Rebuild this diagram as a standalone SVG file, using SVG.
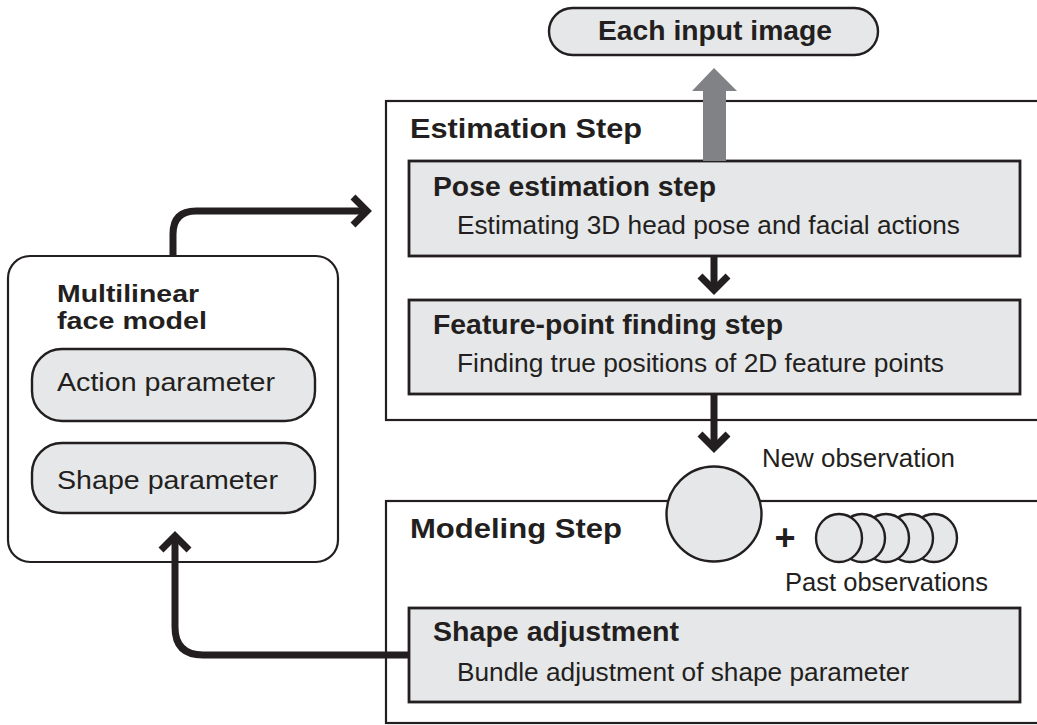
<svg xmlns="http://www.w3.org/2000/svg" width="1037" height="725" viewBox="0 0 1037 725">
  <style>
    .frame { fill: #ffffff; stroke: #231f20; stroke-width: 2.2; }
    .step { fill: #e6e7e8; stroke: #231f20; stroke-width: 2.8; }
    .pill { fill: #e6e7e8; stroke: #231f20; stroke-width: 2.4; }
    .obs { fill: #e6e7e8; stroke: #231f20; stroke-width: 2.4; }
    .wire { fill: none; stroke: #231f20; stroke-width: 7; stroke-linejoin: miter; }
    .head { fill: none; stroke: #231f20; stroke-width: 7; stroke-linejoin: miter; stroke-linecap: butt; }
    text { font-family: "Liberation Sans", Arial, Helvetica, sans-serif; fill: #231f20; }
    .h1 { font-size: 28px; font-weight: bold; }
    .h2 { font-size: 27px; font-weight: bold; }
    .h3 { font-size: 23px; font-weight: bold; }
    .body { font-size: 25px; }
    .lbl { font-size: 26px; }
  </style>

  <!-- Estimation step frame -->
  <g id="estimation-step">
    <rect class="frame" x="386" y="101" width="700" height="319"/>
    <text class="h1" x="410" y="138" textLength="232" lengthAdjust="spacingAndGlyphs">Estimation Step</text>
  </g>

  <!-- Modeling step frame -->
  <g id="modeling-step">
    <rect class="frame" x="386" y="501" width="700" height="222"/>
    <text class="h1" x="410" y="538" textLength="212" lengthAdjust="spacingAndGlyphs">Modeling Step</text>
  </g>

  <!-- Input pill -->
  <g id="input-image">
    <rect class="pill" x="549" y="8" width="329" height="47" rx="23.5"/>
    <text class="h1" x="598" y="40" textLength="234" lengthAdjust="spacingAndGlyphs">Each input image</text>
  </g>

  <g id="pose-estimation">
    <rect class="step" x="409" y="161" width="611" height="95"/>
    <text class="h2" x="433" y="196" textLength="283" lengthAdjust="spacingAndGlyphs">Pose estimation step</text>
    <text class="body" x="457" y="234" textLength="503" lengthAdjust="spacingAndGlyphs">Estimating 3D head pose and facial actions</text>
  </g>

  <g id="feature-point">
    <rect class="step" x="409" y="300" width="611" height="94"/>
    <text class="h2" x="433" y="334" textLength="350" lengthAdjust="spacingAndGlyphs">Feature-point finding step</text>
    <text class="body" x="457" y="372" textLength="487" lengthAdjust="spacingAndGlyphs">Finding true positions of 2D feature points</text>
  </g>

  <g id="shape-adjustment">
    <rect class="step" x="409" y="608" width="611" height="94"/>
    <text class="h2" x="433" y="641" textLength="246" lengthAdjust="spacingAndGlyphs">Shape adjustment</text>
    <text class="body" x="457" y="681" textLength="452" lengthAdjust="spacingAndGlyphs">Bundle adjustment of shape parameter</text>
  </g>

  <!-- Face model -->
  <g id="face-model">
    <rect class="frame" x="8" y="256" width="330" height="306" rx="22"/>
    <text class="h3" x="57" y="302" textLength="142" lengthAdjust="spacingAndGlyphs">Multilinear</text>
    <text class="h3" x="57" y="329" textLength="150" lengthAdjust="spacingAndGlyphs">face model</text>
  </g>
  <g id="action-parameter">
    <rect class="pill" x="32" y="349" width="283" height="72" rx="30"/>
    <text class="lbl" x="57" y="391" textLength="218" lengthAdjust="spacingAndGlyphs">Action parameter</text>
  </g>
  <g id="shape-parameter">
    <rect class="pill" x="32" y="443" width="283" height="70" rx="30"/>
    <text class="lbl" x="57" y="489" textLength="221" lengthAdjust="spacingAndGlyphs">Shape parameter</text>
  </g>

  <!-- Connectors -->
  <g id="connectors">
    <!-- output to input image (gray block arrow) -->
    <polygon fill="#808285" points="703,161 703,91 692,91 714,68 737,91 726,91 726,161"/>
    <!-- pose -> feature -->
    <line class="wire" x1="714" y1="256" x2="714" y2="288"/>
    <polyline class="head" points="700,276 714,290 728,276"/>
    <!-- feature -> new observation -->
    <line class="wire" x1="714" y1="394" x2="714" y2="446"/>
    <polyline class="head" points="700,434 714,448 728,434"/>
    <!-- face model -> estimation step -->
    <path class="wire" d="M173,256 V234 Q173,211 196,211 H362"/>
    <polyline class="head" points="353,197 367,211 353,225"/>
    <!-- shape adjustment -> face model -->
    <path class="wire" d="M409,655 H203 Q175,655 175,627 V540"/>
    <polyline class="head" points="161,550 175,536 189,550"/>
  </g>

  <!-- Observations -->
  <g id="new-observation">
    <circle class="obs" cx="714" cy="514" r="47.5"/>
    <text class="body" x="762" y="467" textLength="193" lengthAdjust="spacingAndGlyphs">New observation</text>
  </g>
  <g id="plus">
    <text x="785" y="550" text-anchor="middle" style="font-size:36px;font-weight:bold">+</text>
  </g>
  <g id="past-observations">
    <ellipse class="obs" cx="934" cy="538" rx="23" ry="24"/>
    <ellipse class="obs" cx="910" cy="538" rx="23" ry="24"/>
    <ellipse class="obs" cx="886" cy="538" rx="23" ry="24"/>
    <ellipse class="obs" cx="862" cy="538" rx="23" ry="24"/>
    <ellipse class="obs" cx="839" cy="538" rx="23" ry="24"/>
    <text class="body" x="785" y="591" textLength="203" lengthAdjust="spacingAndGlyphs">Past observations</text>
  </g>
</svg>
